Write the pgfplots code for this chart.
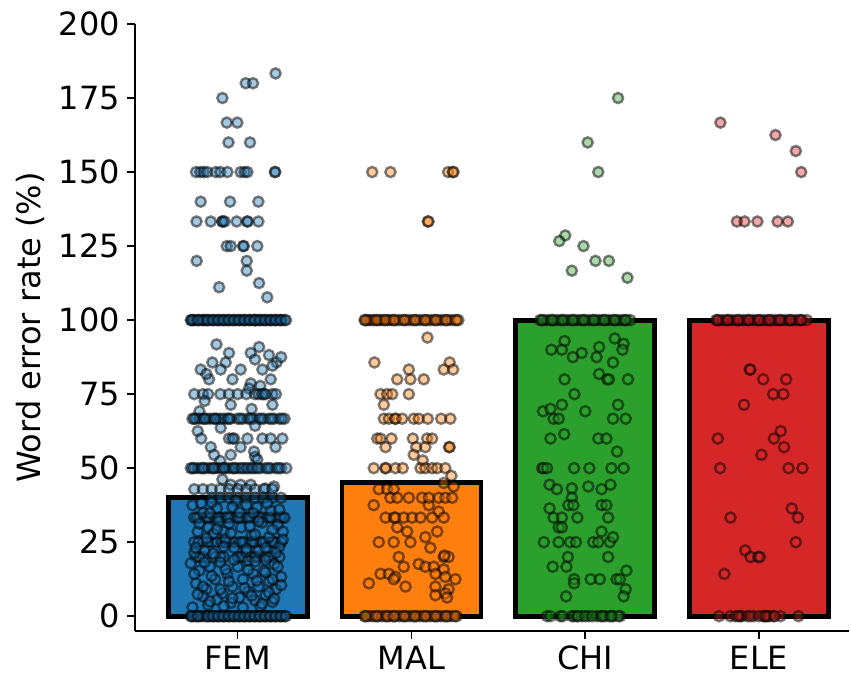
\documentclass[border=0pt]{standalone}
\usepackage{fontspec}
\setmainfont{DejaVu Sans}
\usepackage{pgfplots}
\pgfplotsset{compat=1.18}
\definecolor{c0}{HTML}{1F77B4}
\definecolor{c1}{HTML}{FF7F0E}
\definecolor{c2}{HTML}{2CA02C}
\definecolor{c3}{HTML}{D62728}
\pgfplotsset{
  pts/.style={only marks, mark=*, mark size=2.55pt,
    mark options={fill=#1, fill opacity=0.4, draw=black, draw opacity=0.5, line width=1.2pt}},
  bars/.style={ybar, bar width=0.8, bar shift=0pt, fill=#1, draw=black, line width=2.4pt},
}
\begin{document}
\begin{tikzpicture}
\begin{axis}[
  at={(67.5pt,23pt)}, anchor=south west,
  width=357pt, height=303.5pt, scale only axis,
  xmin=-0.591, xmax=3.518, ymin=-5, ymax=200,
  axis lines*=left,
  axis line style={line width=0.75pt, black},
  xtick={0,1,2,3}, xticklabels={FEM,MAL,CHI,ELE},
  ytick={0,25,...,200},
  tick align=outside,
  major tick length=4pt,
  tick style={line width=0.75pt, black},
  tick label style={font=\fontsize{16}{19}\selectfont},
  /pgf/number format/assume math mode=true,
  ylabel={Word error rate (\%)},
  ylabel style={font=\fontsize{16}{19}\selectfont, at={(axis description cs:-0.147,0.5)}, anchor=center},
  clip=false,
]
\addplot[bars=c0] coordinates {(0,40.0)};
\addplot[bars=c1] coordinates {(1,45.2)};
\addplot[bars=c2] coordinates {(2,100)};
\addplot[bars=c3] coordinates {(3,100)};

% FEM
\addplot[pts=c0] table[row sep=\\] {
x y\\
0.218 183.3\\ 0.046 180\\ 0.088 180\\ -0.088 175\\ -0.063 166.7\\ -0.002 166.7\\ -0.053 160\\ 0.071 160\\
-0.240 150\\ -0.215 150\\ -0.195 150\\ -0.175 150\\ -0.126 150\\ -0.100 150\\ -0.059 150\\ 0.017 150\\ 0.040 150\\ 0.056 150\\ 0.214 150\\ 0.216 150\\
-0.213 140\\ -0.044 140\\ 0.119 140\\
-0.237 133.3\\ -0.155 133.3\\ -0.090 133.3\\ -0.086 133.3\\ -0.075 133.3\\ -0.006 133.3\\ 0.054 133.3\\ 0.058 133.3\\ 0.119 133.3\\
-0.063 125\\ -0.040 125\\ 0.031 125\\ 0.035 125\\ 0.113 125\\
-0.236 120\\ 0.052 120\\ 0.052 116.7\\ 0.123 112.5\\ -0.107 111.1\\ 0.170 107.7\\
-0.270 100\\ -0.260 100\\ -0.250 100\\ -0.235 100\\ -0.220 100\\ -0.205 100\\ -0.190 100\\ -0.180 100\\ -0.165 100\\ -0.150 100\\
-0.135 100\\ -0.120 100\\ -0.105 100\\ -0.090 100\\ -0.075 100\\ -0.060 100\\ -0.045 100\\ -0.030 100\\ -0.015 100\\ 0.000 100\\
0.015 100\\ 0.030 100\\ 0.045 100\\ 0.060 100\\ 0.075 100\\ 0.090 100\\ 0.105 100\\ 0.120 100\\ 0.135 100\\ 0.150 100\\
0.165 100\\ 0.180 100\\ 0.195 100\\ 0.210 100\\ 0.225 100\\ 0.240 100\\ 0.255 100\\ 0.270 100\\ -0.200 100\\ 0.100 100\\
-0.265 100\\ -0.228 100\\ -0.172 100\\ -0.142 100\\ -0.112 100\\ -0.082 100\\ -0.052 100\\ -0.022 100\\ 0.008 100\\
0.038 100\\ 0.068 100\\ 0.098 100\\ 0.128 100\\ 0.158 100\\ 0.188 100\\ 0.218 100\\ 0.248 100\\ 0.278 100\\
-0.122 91.8\\ 0.123 90.9\\ 0.075 88.9\\ 0.180 88.2\\ 0.224 85.7\\ -0.146 85.7\\ -0.069 85.7\\ -0.213 83.3\\ -0.098 83.3\\ 0.017 83.3\\
0.142 83.3\\ -0.030 80\\ -0.165 80\\ 0.190 80\\ 0.075 78.6\\ 0.065 76.9\\ 0.130 77.8\\ -0.180 81.8\\ 0.250 87.5\\ 0.100 86.7\\
-0.050 88.9\\ 0.200 84.6\\
-0.250 75\\ -0.200 75\\ -0.170 75\\ -0.100 75\\ -0.050 75\\ 0.000 75\\ 0.050 75\\ 0.100 75\\ 0.120 75\\ 0.150 75\\ 0.200 75\\ 0.220 75\\ 0.140 75\\ 0.160 75\\
-0.190 72.7\\ -0.040 71.4\\ 0.200 71.4\\ 0.080 70\\ -0.220 69.2\\
-0.260 66.7\\ -0.240 66.7\\ -0.220 66.7\\ -0.200 66.7\\ -0.180 66.7\\ -0.160 66.7\\ -0.140 66.7\\ -0.120 66.7\\ -0.100 66.7\\ -0.080 66.7\\ -0.060 66.7\\
-0.040 66.7\\ 0.000 66.7\\ 0.030 66.7\\ 0.060 66.7\\ 0.090 66.7\\ 0.120 66.7\\ 0.150 66.7\\ 0.180 66.7\\ 0.210 66.7\\ 0.240 66.7\\ 0.270 66.7\\
-0.250 66.7\\ -0.190 66.7\\ -0.130 66.7\\ -0.050 66.7\\ 0.015 66.7\\ 0.075 66.7\\ 0.135 66.7\\ 0.195 66.7\\ 0.255 66.7\\
-0.230 62.5\\ -0.098 63.6\\ 0.100 64.3\\
-0.210 60\\ -0.050 60\\ -0.020 60\\ 0.056 60\\ 0.142 60\\ 0.190 60\\ 0.257 60\\ -0.030 60\\
-0.155 57.1\\ 0.017 57.1\\ 0.218 57.1\\ 0.094 55.6\\ -0.136 54.5\\ -0.040 54.5\\ 0.100 53.8\\ -0.100 52.4\\ 0.113 52.9\\
-0.270 50\\ -0.250 50\\ -0.230 50\\ -0.210 50\\ -0.190 50\\ -0.170 50\\ -0.150 50\\ -0.130 50\\ -0.110 50\\ -0.090 50\\ -0.070 50\\ -0.050 50\\
-0.030 50\\ -0.010 50\\ 0.010 50\\ 0.040 50\\ 0.070 50\\ 0.100 50\\ 0.130 50\\ 0.160 50\\ 0.190 50\\ 0.220 50\\ 0.250 50\\ 0.280 50\\
-0.260 50\\ -0.200 50\\ -0.140 50\\ -0.080 50\\ -0.020 50\\ 0.025 50\\ 0.055 50\\ 0.085 50\\ 0.115 50\\ 0.175 50\\ 0.235 50\\
-0.088 46.2\\ -0.040 44.4\\ 0.017 44.4\\ 0.075 44.4\\ 0.160 43.1\\ 0.209 43.8\\
-0.250 42.9\\ -0.200 42.9\\ -0.150 42.9\\ -0.100 42.9\\ -0.050 42.9\\ 0.000 42.9\\ 0.050 42.9\\ 0.100 42.9\\ 0.150 42.9\\ 0.200 42.9\\
-0.150 40\\ -0.100 40\\ -0.050 40\\ 0.000 40\\ 0.050 40\\ 0.100 40\\ 0.150 40\\ 0.200 40\\ 0.250 40\\
-0.250 33.3\\ -0.220 33.3\\ -0.190 33.3\\ -0.160 33.3\\ -0.130 33.3\\ -0.100 33.3\\ -0.070 33.3\\ -0.040 33.3\\ -0.010 33.3\\
0.020 33.3\\ 0.050 33.3\\ 0.080 33.3\\ 0.110 33.3\\ 0.140 33.3\\ 0.170 33.3\\ 0.200 33.3\\ 0.230 33.3\\ 0.260 33.3\\
-0.235 33.3\\ -0.175 33.3\\ -0.115 33.3\\ -0.055 33.3\\ 0.005 33.3\\ 0.065 33.3\\ 0.125 33.3\\ 0.185 33.3\\ 0.245 33.3\\
-0.250 25\\ -0.200 25\\ -0.150 25\\ -0.120 25\\ -0.090 25\\ -0.050 25\\ -0.020 25\\ 0.010 25\\ 0.040 25\\ 0.070 25\\ 0.100 25\\
0.130 25\\ 0.160 25\\ 0.190 25\\ 0.220 25\\ 0.250 25\\
-0.225 25\\ -0.175 25\\ -0.070 25\\ 0.025 25\\ 0.085 25\\ 0.145 25\\ 0.205 25\\
-0.240 20\\ -0.200 20\\ -0.130 20\\ -0.080 20\\ 0.000 20\\ 0.040 20\\ 0.080 20\\ 0.120 20\\ 0.160 20\\ 0.200 20\\ 0.240 20\\
-0.220 20\\ -0.100 20\\ 0.020 20\\ 0.100 20\\ 0.180 20\\
-0.260 37.5\\ -0.120 36.4\\ 0.050 37.5\\ 0.190 35.7\\ -0.200 35\\ 0.110 36.8\\ -0.050 31.3\\ 0.230 30.8\\ -0.170 30\\ 0.020 30\\
0.140 31.6\\ -0.080 28.6\\ 0.260 28.6\\ -0.230 28.6\\ 0.080 27.3\\ -0.140 27.8\\ 0.180 26.7\\ -0.020 23.1\\ -0.190 22.2\\ 0.120 22.2\\
0.240 23.5\\ -0.250 21.4\\ -0.100 18.2\\ 0.060 18.8\\ 0.210 17.6\\ -0.160 16.7\\ 0.000 16.7\\ 0.150 15.4\\ -0.220 15.4\\ -0.060 14.3\\
0.090 14.3\\ 0.250 13.3\\ -0.130 12.5\\ 0.030 12.5\\ 0.180 11.8\\ -0.240 11.1\\ -0.030 10\\ 0.120 10\\ -0.180 9.1\\ 0.220 9.1\\
0.060 8.3\\ -0.090 7.7\\ 0.160 7.1\\ -0.200 6.7\\ 0.010 6.3\\ -0.120 5.6\\ 0.100 5.3\\ 0.200 4.8\\ -0.040 4.5\\ -0.150 38.5\\
0.090 34.8\\ 0.270 33.3\\ -0.070 26.1\\ 0.160 19\\ -0.270 17.9\\ -0.010 38.9\\ 0.200 12.5\\ -0.110 32\\ 0.050 21.7\\ -0.170 3.8\\ 0.130 3.2\\
-0.210 38.1\\ 0.170 38.1\\ -0.030 36.8\\ 0.240 36\\ -0.160 34.8\\ 0.010 35\\ 0.120 32.1\\ -0.220 31.3\\ 0.070 30.4\\ -0.120 29.4\\
0.200 29.2\\ -0.040 28\\ 0.100 27.6\\ -0.180 26.3\\ 0.260 25.9\\ -0.080 23.5\\ 0.160 23.1\\ -0.240 23.1\\ 0.050 22.7\\ -0.140 21.1\\
0.220 21.4\\ -0.020 19\\ 0.100 18.5\\ -0.190 18.2\\ 0.230 16.7\\ -0.070 15.8\\ 0.060 15.6\\ -0.250 14.3\\ 0.160 14.8\\ -0.150 13.6\\
0.110 12\\ -0.050 11.8\\ 0.250 10.5\\ -0.200 10\\ 0.040 9.5\\ -0.100 9.1\\ 0.180 8\\ -0.230 7.4\\ 0.080 6.9\\ -0.030 6.1\\
0.210 5.9\\ -0.160 5\\ 0.140 4.2\\ -0.080 3.4\\ 0.030 2.9\\ -0.260 3\\
-0.270 0\\ -0.255 0\\ -0.240 0\\ -0.225 0\\ -0.210 0\\ -0.195 0\\ -0.180 0\\ -0.165 0\\ -0.150 0\\ -0.135 0\\ -0.120 0\\ -0.105 0\\
-0.090 0\\ -0.075 0\\ -0.060 0\\ -0.045 0\\ -0.030 0\\ -0.015 0\\ 0.000 0\\ 0.015 0\\ 0.030 0\\ 0.045 0\\ 0.060 0\\ 0.075 0\\
0.090 0\\ 0.105 0\\ 0.120 0\\ 0.135 0\\ 0.150 0\\ 0.165 0\\ 0.180 0\\ 0.195 0\\ 0.210 0\\ 0.225 0\\ 0.240 0\\ 0.255 0\\ 0.270 0\\
-0.265 0\\ -0.228 0\\ -0.172 0\\ -0.142 0\\ -0.112 0\\ -0.082 0\\ -0.052 0\\ -0.022 0\\ 0.008 0\\
0.038 0\\ 0.068 0\\ 0.098 0\\ 0.128 0\\ 0.158 0\\ 0.188 0\\ 0.218 0\\ 0.248 0\\ 0.278 0\\
};

% MAL
\addplot[pts=c1] table[row sep=\\] {
x y\\
0.774 150\\ 0.879 150\\ 1.211 150\\ 1.238 150\\ 1.242 150\\ 1.094 133.3\\ 1.098 133.3\\
0.730 100\\ 0.745 100\\ 0.760 100\\ 0.775 100\\ 0.790 100\\ 0.810 100\\ 0.825 100\\ 0.840 100\\ 0.860 100\\ 0.875 100\\
0.890 100\\ 0.910 100\\ 0.930 100\\ 0.950 100\\ 0.970 100\\ 0.990 100\\ 1.010 100\\ 1.030 100\\ 1.050 100\\ 1.070 100\\
1.090 100\\ 1.110 100\\ 1.130 100\\ 1.150 100\\ 1.170 100\\ 1.190 100\\ 1.210 100\\ 1.230 100\\ 1.250 100\\ 1.270 100\\
0.735 100\\ 0.800 100\\ 0.850 100\\ 0.900 100\\ 0.960 100\\ 1.020 100\\ 1.080 100\\ 1.140 100\\ 1.200 100\\ 1.260 100\\
1.092 94.1\\ 0.787 85.7\\ 1.220 85.7\\ 1.186 83.3\\ 1.240 83.3\\ 0.985 83.3\\ 0.918 80\\ 0.994 80\\ 1.071 80\\
0.822 75\\ 0.860 75\\ 0.889 75\\ 0.985 75\\ 0.841 71.4\\
0.841 66.7\\ 0.870 66.7\\ 0.905 66.7\\ 0.910 66.7\\ 0.947 66.7\\ 1.013 66.7\\ 1.042 66.7\\ 1.094 66.7\\ 1.171 66.7\\ 1.224 66.7\\
0.803 60\\ 0.822 60\\ 0.885 60\\ 1.008 60\\ 1.090 60\\ 1.119 60\\
0.851 57.1\\ 1.027 57.1\\ 1.080 57.1\\ 1.216 57.1\\ 1.220 57.1\\ 1.013 54.5\\ 1.065 52.6\\
0.783 50\\ 0.849 50\\ 0.853 50\\ 0.908 50\\ 0.950 50\\ 1.052 50\\ 1.080 50\\ 1.119 50\\ 1.148 50\\ 1.195 50\\ 1.230 47.4\\
1.186 45\\ 1.243 43.8\\ 0.812 42.9\\ 0.860 42.9\\ 0.898 42.9\\ 0.783 37.5\\ 1.100 37.5\\ 1.157 35.3\\
0.879 40\\ 0.918 40\\ 0.985 40\\ 1.061 40\\ 1.100 40\\ 1.157 40\\ 1.195 40\\ 1.234 40\\
0.851 33.3\\ 0.900 33.3\\ 0.908 33.3\\ 0.956 33.3\\ 1.004 33.3\\ 1.052 33.3\\ 1.119 33.3\\ 1.186 33.3\\
0.918 30\\ 0.975 28.6\\ 1.148 28.6\\ 0.812 25\\ 0.898 25\\ 0.994 25\\ 1.080 26.7\\ 1.109 23.1\\
0.927 20\\ 1.186 20\\ 1.214 20\\ 1.190 20.5\\ 0.956 16.7\\ 1.042 17.6\\ 1.080 16.7\\ 1.128 16.7\\ 1.186 15.8\\
0.822 14.3\\ 0.870 14.3\\ 0.908 13.3\\ 1.138 14.3\\ 1.195 13.3\\ 1.253 12.5\\
0.755 11.1\\ 0.898 12.5\\ 0.966 10\\ 1.138 10\\ 1.214 9.1\\ 1.195 7.7\\ 1.138 7.1\\ 1.205 6.3\\
0.730 0\\ 0.750 0\\ 0.770 0\\ 0.790 0\\ 0.810 0\\ 0.830 0\\ 0.850 0\\ 0.870 0\\ 0.890 0\\ 0.910 0\\ 0.930 0\\ 0.950 0\\ 0.970 0\\
0.990 0\\ 1.010 0\\ 1.030 0\\ 1.050 0\\ 1.070 0\\ 1.090 0\\ 1.110 0\\ 1.130 0\\ 1.150 0\\ 1.170 0\\ 1.190 0\\ 1.210 0\\ 1.230 0\\ 1.260 0\\
0.735 0\\ 0.800 0\\ 0.860 0\\ 0.900 0\\ 0.960 0\\ 1.020 0\\ 1.080 0\\ 1.140 0\\ 1.200 0\\ 1.250 0\\
};

% CHI
\addplot[pts=c2] table[row sep=\\] {
x y\\
2.189 175\\ 2.014 160\\ 2.075 150\\ 1.885 128.6\\ 1.851 126.7\\ 1.990 125\\ 2.059 120\\ 2.136 120\\ 1.923 116.7\\ 2.243 114.3\\
1.740 100\\ 1.760 100\\ 1.780 100\\ 1.800 100\\ 1.820 100\\ 1.840 100\\ 1.860 100\\ 1.880 100\\ 1.900 100\\ 1.920 100\\
1.940 100\\ 1.960 100\\ 1.980 100\\ 2.000 100\\ 2.020 100\\ 2.040 100\\ 2.060 100\\ 2.080 100\\ 2.100 100\\ 2.120 100\\
2.140 100\\ 2.160 100\\ 2.180 100\\ 2.200 100\\ 2.220 100\\ 2.240 100\\ 2.260 100\\
1.750 100\\ 1.810 100\\ 1.870 100\\ 1.930 100\\ 1.990 100\\ 2.050 100\\ 2.110 100\\ 2.170 100\\ 2.230 100\\
2.170 93.8\\ 1.881 92.9\\ 2.221 92\\ 2.080 90.9\\ 1.805 90\\ 1.866 90\\ 2.214 90\\ 1.980 88.9\\ 2.065 87.5\\ 1.929 87.5\\ 2.160 85.7\\
1.881 80\\ 2.080 81.8\\ 2.126 80\\ 2.136 80\\ 2.246 80\\ 1.938 75\\
1.757 69.2\\ 1.800 70\\ 1.866 71.4\\ 1.818 66.7\\ 1.847 66.7\\ 2.000 69.2\\ 2.189 71.4\\ 2.160 66.7\\ 2.233 66.7\\
1.800 60\\ 1.879 61.5\\ 2.075 60\\ 2.122 60\\ 2.183 55.6\\
1.752 50\\ 1.760 50\\ 1.780 50\\ 1.936 50\\ 2.024 50\\ 2.151 50\\ 2.221 50\\
1.795 44.4\\ 1.837 42.9\\ 1.923 43.2\\ 2.018 43.8\\ 2.094 42.9\\ 2.145 44.4\\
1.923 40\\ 1.903 37.5\\ 1.932 37.5\\ 2.094 37.5\\ 2.122 37.5\\
1.795 36.4\\ 1.818 33.3\\ 1.866 33.3\\ 1.955 33.3\\ 2.132 33.3\\ 1.847 30\\ 1.866 30\\
1.762 25\\ 1.847 25\\ 1.913 25\\ 1.947 25\\ 2.046 25\\ 2.075 25\\ 2.142 25\\ 2.160 26.7\\ 2.094 28.6\\
1.900 20\\ 2.132 20\\ 1.813 16.7\\ 1.892 16.7\\
1.936 12.5\\ 1.936 11.1\\ 2.031 12.5\\ 2.084 12.5\\ 2.180 12.5\\ 2.199 12.5\\ 2.237 15.4\\ 2.233 9.1\\ 2.221 6.7\\ 1.890 6.7\\
1.780 0\\ 1.856 0\\ 1.923 0\\ 1.935 0\\ 1.952 0\\ 1.981 0\\ 2.019 0\\ 2.067 0\\ 2.090 0\\ 2.115 0\\ 2.140 0\\ 2.163 0\\ 2.201 0\\ 2.190 0\\
1.800 0\\ 1.870 0\\ 1.960 0\\ 2.000 0\\ 2.040 0\\ 2.100 0\\ 2.150 0\\
};

% ELE
\addplot[pts=c3] table[row sep=\\] {
x y\\
2.778 166.7\\ 3.095 162.5\\ 3.212 157.1\\ 3.243 150\\ 2.873 133.3\\ 2.917 133.3\\ 2.991 133.3\\ 3.107 133.3\\ 3.166 133.3\\
2.753 100\\ 2.770 100\\ 2.790 100\\ 2.810 100\\ 2.830 100\\ 2.850 100\\ 2.870 100\\ 2.890 100\\ 2.910 100\\ 2.930 100\\
2.950 100\\ 2.970 100\\ 2.990 100\\ 3.010 100\\ 3.030 100\\ 3.050 100\\ 3.070 100\\ 3.090 100\\ 3.110 100\\ 3.130 100\\
3.150 100\\ 3.170 100\\ 3.190 100\\ 3.210 100\\ 3.230 100\\ 3.250 100\\ 3.276 100\\
2.760 100\\ 2.820 100\\ 2.880 100\\ 2.940 100\\ 3.000 100\\ 3.060 100\\ 3.120 100\\ 3.180 100\\ 3.240 100\\
2.947 83.3\\ 2.950 83.3\\ 3.024 80\\ 3.156 80\\ 3.082 75\\ 3.140 75\\ 2.914 71.4\\
3.125 62.5\\ 3.086 60\\ 3.144 57.1\\ 2.763 60\\ 3.014 54.5\\ 2.776 50\\ 3.170 50\\ 3.250 50\\
2.836 33.3\\ 3.189 36.4\\ 3.224 33.3\\ 3.212 25\\ 2.921 22.2\\ 2.952 20\\ 2.995 20\\ 3.005 20\\ 2.801 14.3\\
2.770 0\\ 2.835 0\\ 2.865 0\\ 2.892 0\\ 2.900 0\\ 2.933 0\\ 2.970 0\\ 3.026 0\\ 3.030 0\\ 3.049 0\\ 3.060 0\\ 3.083 0\\ 3.124 0\\ 3.227 0\\
2.880 0\\ 2.950 0\\ 3.000 0\\ 3.040 0\\ 3.090 0\\
};
\end{axis}
\pgfresetboundingbox
\useasboundingbox (0,0) rectangle (425.5pt,338.5pt);
\end{tikzpicture}
\end{document}
